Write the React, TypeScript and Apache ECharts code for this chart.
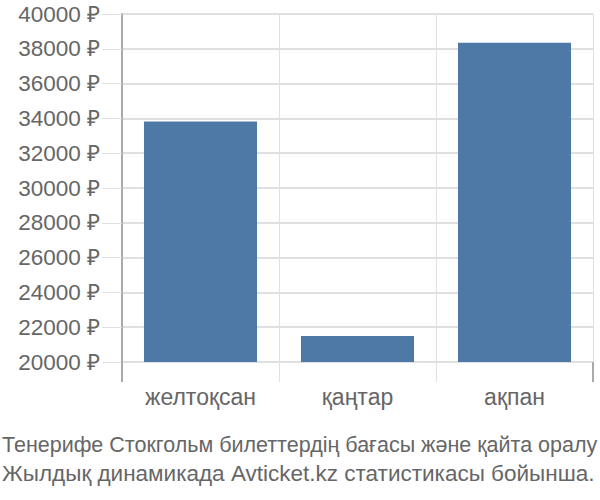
import React, { useEffect, useRef } from 'react';
import * as echarts from 'echarts';

const months = ['желтоқсан', 'қаңтар', 'ақпан'];
const prices = [33820, 21490, 38350];
const titleLines = [
  'Тенерифе Стокгольм билеттердің бағасы және қайта оралу',
  'Жылдық динамикада Avticket.kz статистикасы бойынша.',
];

const FONT = '"Liberation Sans", Arial, sans-serif';

const App: React.FC = () => {
  const chartRef = useRef<HTMLDivElement | null>(null);

  useEffect(() => {
    if (!chartRef.current) return;
    const chart = echarts.init(chartRef.current, undefined, { renderer: 'svg' });

    const titleText = (text: string, size: number, y: number) => ({
      type: 'text',
      x: 2,
      y,
      style: {
        text,
        fontFamily: FONT,
        fontSize: size,
        fill: '#666',
        verticalAlign: 'middle',
      },
    });

    chart.setOption({
      animation: false,
      graphic: [titleText(titleLines[0], 21.5, 445), titleText(titleLines[1], 22.5, 473)],
      grid: { left: 122, right: 7, top: 14, bottom: 138 },
      xAxis: [
        {
          type: 'category',
          data: months,
          axisLine: { show: false },
          axisTick: { show: true, length: 20, lineStyle: { color: '#e0e0e0' } },
          splitLine: { show: true, lineStyle: { color: '#e0e0e0' } },
          axisLabel: { color: '#666', fontSize: 23, fontFamily: FONT, margin: 23 },
        },
        {
          // darker tick continuing the y axis line below the plot
          type: 'category',
          data: months,
          position: 'bottom',
          axisLine: { show: false },
          axisTick: {
            show: true,
            length: 20,
            interval: (i: number) => i === 0,
            lineStyle: { color: '#aaa', width: 2 },
          },
          splitLine: { show: false },
          axisLabel: { show: false },
        },
      ],
      yAxis: {
        type: 'value',
        min: 20000,
        max: 40000,
        interval: 2000,
        axisLine: { show: true, lineStyle: { color: '#aaa', width: 2 } },
        axisTick: { show: true, length: 20, lineStyle: { color: '#e0e0e0' } },
        splitLine: { show: true, lineStyle: { color: '#e0e0e0', width: 2 } },
        axisLabel: {
          color: '#666',
          fontSize: 22.5,
          fontFamily: FONT,
          margin: 22,
          formatter: (v: number) => `${v} ₽`,
        },
      },
      series: [
        {
          type: 'bar',
          data: prices,
          barCategoryGap: '28%',
          itemStyle: { color: '#4e79a7' },
        },
      ],
    });

    return () => {
      chart.dispose();
    };
  }, []);

  return (
    <div
      ref={chartRef}
      style={{ position: 'absolute', left: 0, top: 0, width: 600, height: 500 }}
    />
  );
};

export default App;
